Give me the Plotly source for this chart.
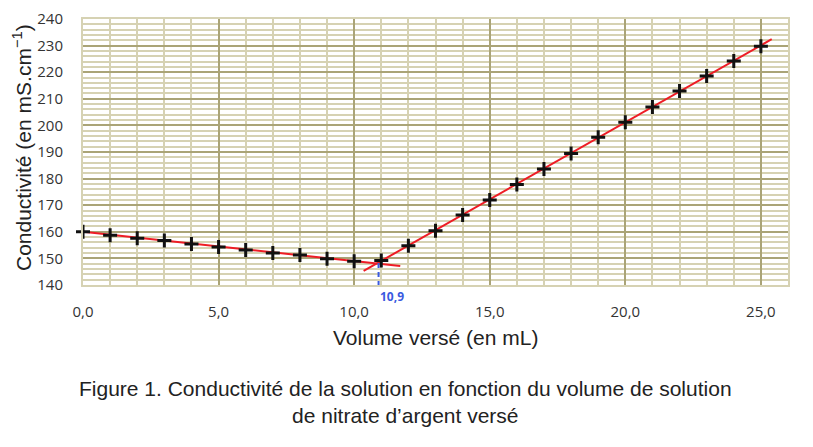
import plotly.graph_objects as go

volume = list(range(0, 26))
conductivite = [160, 158.7, 157.6, 156.7, 155.4, 154.3, 153.2, 152.0, 151.3, 149.9, 148.9,
                149.2, 154.8, 160.4, 166.3, 172.0, 177.8, 183.6, 189.4, 195.5, 201.2,
                206.9, 212.9, 218.6, 224.2, 229.8]

fit1_x = [0.0, 11.7]
fit1_y = [160.0, 147.1]
fit2_x = [10.35, 25.4]
fit2_y = [145.3, 232.4]

eq_x = 10.9
eq_line_y = [148.3, 138.3]
eq_label = "10,9"

x_ticks = [0, 5, 10, 15, 20, 25]
x_ticktext = ["0,0", "5,0", "10,0", "15,0", "20,0", "25,0"]
y_ticks = list(range(140, 241, 10))

fig = go.Figure()
fig.add_trace(go.Scatter(x=fit1_x, y=fit1_y, mode="lines",
                         line=dict(color="#ee1c25", width=2), showlegend=False))
fig.add_trace(go.Scatter(x=fit2_x, y=fit2_y, mode="lines",
                         line=dict(color="#ee1c25", width=2), showlegend=False))
fig.add_trace(go.Scatter(x=volume, y=conductivite, mode="markers",
                         marker=dict(symbol="cross-thin", size=10,
                                     line=dict(color="#111111", width=3)),
                         showlegend=False, cliponaxis=False))
fig.add_trace(go.Scatter(x=[eq_x, eq_x], y=eq_line_y, mode="lines",
                         line=dict(color="#3a5ae0", width=2, dash="5px,4px"),
                         showlegend=False, cliponaxis=False))
fig.add_annotation(x=eq_x, xref="x", y=-0.045, yref="paper", text="<b>" + eq_label + "</b>",
                   showarrow=False, xanchor="left", yanchor="middle", xshift=-1,
                   font=dict(family="Open Sans, Liberation Sans", size=12, color="#3a5ae0"))

fig.update_layout(
    width=813, height=447,
    margin=dict(l=75, r=33, t=11, b=170),
    paper_bgcolor="white", plot_bgcolor="white",
    xaxis=dict(range=[0, 26], tickvals=x_ticks, ticktext=x_ticktext, automargin=False,
               showgrid=True, gridcolor="#aaa477", gridwidth=2,
               minor=dict(dtick=1, showgrid=True, gridcolor="#d6d2b3", gridwidth=2),
               zeroline=False, showline=True, linecolor="#d6d2b3", linewidth=2, mirror=True,
               ticks="", ticklabelstandoff=12,
               tickfont=dict(family="Open Sans, Liberation Sans", size=15, color="#333333")),
    yaxis=dict(range=[140, 240], tickvals=y_ticks, automargin=False,
               showgrid=True, gridcolor="#aaa477", gridwidth=2,
               minor=dict(dtick=2, showgrid=True, gridcolor="#d6d2b3", gridwidth=2),
               zeroline=False, showline=True, linecolor="#d6d2b3", linewidth=2, mirror=True,
               ticks="", ticklabelstandoff=15,
               tickfont=dict(family="Open Sans, Liberation Sans", size=15, color="#333333")),
)

fig.add_annotation(xref="paper", yref="paper", x=0.5, y=-0.199,
                   text="Volume versé (en mL)", showarrow=False,
                   xanchor="center", yanchor="middle",
                   font=dict(family="Liberation Sans, Arial", size=21, color="#222222"))
fig.add_annotation(xref="paper", yref="paper", x=-0.0865, y=0.515,
                   text="Conductivité (en mS.cm<sup>−1</sup>)", showarrow=False, textangle=-90,
                   xanchor="center", yanchor="middle",
                   font=dict(family="Liberation Sans, Arial", size=21, color="#222222"))
fig.add_annotation(xref="paper", yref="paper", x=0.457, y=-0.44,
                   text="Figure 1. Conductivité de la solution en fonction du volume de solution<br>de nitrate d’argent versé",
                   showarrow=False, xanchor="center", yanchor="middle", align="center",
                   font=dict(family="Liberation Sans, Arial", size=21, color="#222222"))

fig.write_html("out.html")
